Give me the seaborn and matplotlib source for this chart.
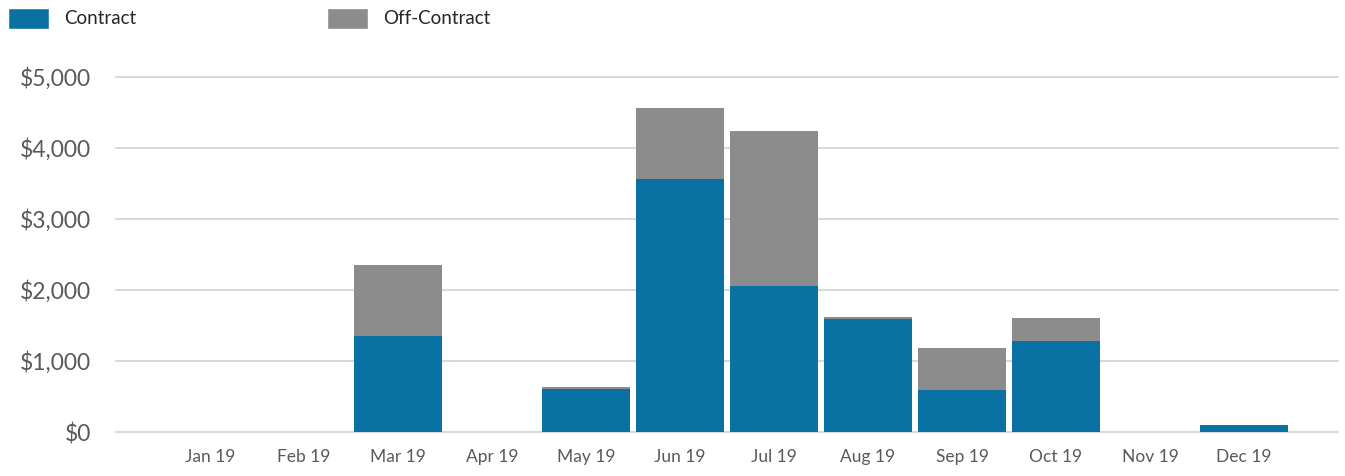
import matplotlib
matplotlib.use("Agg")
import matplotlib.pyplot as plt
import seaborn as sns
import pandas as pd
from matplotlib.patches import Patch
from matplotlib.ticker import FuncFormatter

months = ["Jan 19", "Feb 19", "Mar 19", "Apr 19", "May 19", "Jun 19",
          "Jul 19", "Aug 19", "Sep 19", "Oct 19", "Nov 19", "Dec 19"]
contract = [0, 0, 1356, 0, 606, 3563, 2061, 1596, 596, 1286, 0, 93]
off_contract = [0, 0, 990, 0, 22, 1000, 2178, 28, 591, 324, 0, 0]
yticks = [0, 1000, 2000, 3000, 4000, 5000]

BLUE = "#0A72A3"
GRAY = "#8C8C8C"

sns.set_theme(style="white")
plt.rcParams['font.family'] = ['Lato', 'DejaVu Sans']

df = pd.DataFrame({"month": months, "contract": contract, "off": off_contract})
df["total"] = df["contract"] + df["off"]

fig = plt.figure(figsize=(13.45, 4.76), dpi=100)
ax = fig.add_axes([116/1345, 1-432/476, (1338-116)/1345, (432-77)/476])

sns.barplot(data=df, x="month", y="total", order=months, color=GRAY,
            width=0.945, saturation=1, ax=ax, zorder=3, linewidth=0)
sns.barplot(data=df, x="month", y="contract", order=months, color=BLUE,
            width=0.945, saturation=1, ax=ax, zorder=4, linewidth=0)

ax.set_xlim(-1, 12)
ax.set_ylim(0, 5000)
ax.set_yticks(yticks)
ax.yaxis.set_major_formatter(FuncFormatter(lambda v, p: f"${v:,.0f}"))
ax.grid(axis="y", color="#D9D9D9", linewidth=1.5, zorder=0)
ax.set_axisbelow(True)
for s in ax.spines.values():
    s.set_visible(False)
ax.set_xlabel("")
ax.set_ylabel("")
ax.tick_params(axis="y", labelsize=16.5, labelcolor="#595959", length=0, pad=18)
ax.tick_params(axis="x", labelsize=12.5, labelcolor="#595959", length=0, pad=12)
for gl in ax.get_ygridlines():
    gl.set_clip_on(False)

handles = [Patch(facecolor=BLUE, label="Contract"), Patch(facecolor=GRAY, label="Off-Contract")]
fig.legend(handles=handles, loc="upper left", bbox_to_anchor=(0.0, 1.0), ncol=2,
           frameon=False, fontsize=13.5, handlelength=2.2, handleheight=1.35,
           columnspacing=10.2, handletextpad=0.8, borderaxespad=0.2, borderpad=0.2)

fig.savefig("out.png", dpi=100)
